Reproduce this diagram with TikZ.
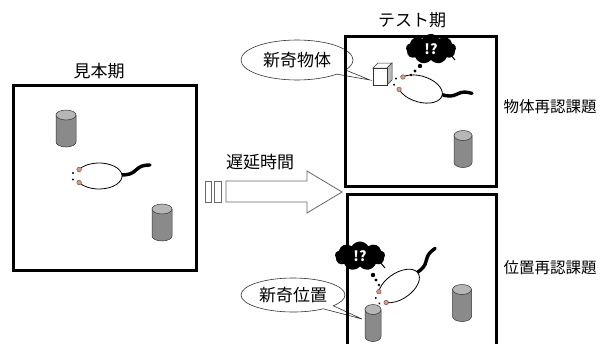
\documentclass[tikz,border=0pt]{standalone}
\usepackage{fontspec}
\setmainfont{Noto Sans CJK JP}
\usetikzlibrary{shapes.symbols, shapes.callouts, positioning}
\definecolor{earpink}{RGB}{236,150,118}
\definecolor{cangray}{RGB}{138,138,138}
\definecolor{cantop}{RGB}{182,182,182}
\definecolor{arrowgray}{RGB}{105,105,105}

\tikzset{
  arena/.style={line width=3pt},
  lbl/.style={font=\fontsize{17}{19}\selectfont, inner sep=0pt},
  task/.style={font=\fontsize{15.5}{17}\selectfont, inner sep=0pt},
  bubble/.style={ellipse callout, draw=black!80, fill=white, line width=0.6pt,
    font=\fontsize{17}{19}\selectfont, inner sep=0pt},
  thought/.style={cloud, cloud puffs=9, cloud puff arc=120, fill=black, text=white,
    font=\fontsize{14}{14}\selectfont\bfseries, inner sep=0pt},
  % a mouse seen from above, nose to the left
  pics/mouse/.style={code={
    \draw[line width=3.4pt, line cap=round] (22,-1) .. controls (29,-1) and (33,-2) .. (37,-6)
      .. controls (41,-10) and (45,-11) .. (51,-11);
    \draw[line width=0.8pt, fill=white] (-19.9,-6.5) arc[start angle=-150, end angle=150, x radius=23, y radius=13];
    \filldraw[fill=earpink, draw=black!70, line width=0.4pt] (-19.9,-6.5) circle (2.3);
    \filldraw[fill=earpink, draw=black!70, line width=0.4pt] (-19.9,6.5) circle (2.3);
    \fill (-26,-3) circle (1.1);
    \fill (-26,3.5) circle (1.1);
  }},
  % an upright cylinder
  pics/can/.style={code={
    \filldraw[fill=cangray, draw=black!80, line width=0.5pt] (-#1,-13.5) -- (-#1,13.5)
      arc[start angle=180, end angle=0, x radius=#1, y radius=5] -- (#1,-13.5) -- cycle;
    \filldraw[fill=cantop, draw=black!80, line width=0.5pt] (0,-13.5) ellipse[x radius=#1, y radius=5];
  }},
  pics/can/.default=10,
}

\begin{document}
\begin{tikzpicture}[x=1pt, y=-1pt]
  \useasboundingbox (0,0) rectangle (600,343);

  % Speech bubbles
  \node[bubble, minimum width=112, minimum height=40, callout absolute pointer={(370,80)}] (novelobj) at (297,60) {新奇物体};
  \node[bubble, minimum width=104, minimum height=34, callout absolute pointer={(362,319)}] (novelloc) at (293,295) {新奇位置};

  % Arenas
  \draw[arena] (13.5,85.5) rectangle (196,270);
  \draw[arena] (345.5,36.5) rectangle (496,186);
  \draw[arena] (347.5,346) |- (496,194.5) -- (496,346);

  % Phase labels
  \node[lbl] (sample) at (99,71) {見本期};
  \node[lbl] (test) at (412,20) {テスト期};
  \node[task] (objtask) at (550,107) {物体再認課題};
  \node[task] (loctask) at (550,268) {位置再認課題};

  % Delay arrow
  \draw[arrowgray, line width=0.8pt, fill=white] (226,181) -- (307,181) -- (307,171) -- (342,192)
    -- (307,213) -- (307,202) -- (226,202) -- cycle;
  \draw[arrowgray, line width=0.8pt] (205,181) rectangle (211,202);
  \draw[arrowgray, line width=0.8pt] (214,181) rectangle (221,202);
  \node[lbl] (delay) at (260,162) {遅延時間};

  % Sample phase
  \pic at (66,128.5) {can};
  \pic at (162,222.5) {can};
  \pic at (99,176) {mouse};

  % Test phase: novel object
  \pic at (463,149) {can=9};
  \filldraw[fill=white, draw=black!80, line width=0.5pt] (373,68) -- (378,63) -- (392,63) -- (387,68) -- cycle;
  \filldraw[fill=gray!55, draw=black!80, line width=0.5pt] (387,68) -- (392,63) -- (392,80) -- (387,85) -- cycle;
  \filldraw[fill=white, draw=black!80, line width=0.5pt] (373,68) rectangle (387,85);
  \pic[rotate=-17] at (420,89) {mouse};
  \node[thought, minimum width=50, minimum height=30] (surprise1) at (431,49) {!?};
  \draw[line width=1pt] (450,54) -- (455,60);
  \fill (420,66) circle (2.2);
  \fill (415,71) circle (1.7);
  \fill (411,75) circle (1.3);

  % Test phase: novel location
  \pic at (462,303) {can=9.5};
  \pic at (373,323) {can=8};
  \pic[rotate=34] at (399,286) {mouse};
  \node[thought, minimum width=50, minimum height=29] (surprise2) at (360,256) {!?};
  \draw[line width=1pt] (380,262) -- (385,268);
  \fill (373,275) circle (2.2);
  \fill (376,280) circle (1.7);
  \fill (379,285) circle (1.3);
\end{tikzpicture}
\end{document}
